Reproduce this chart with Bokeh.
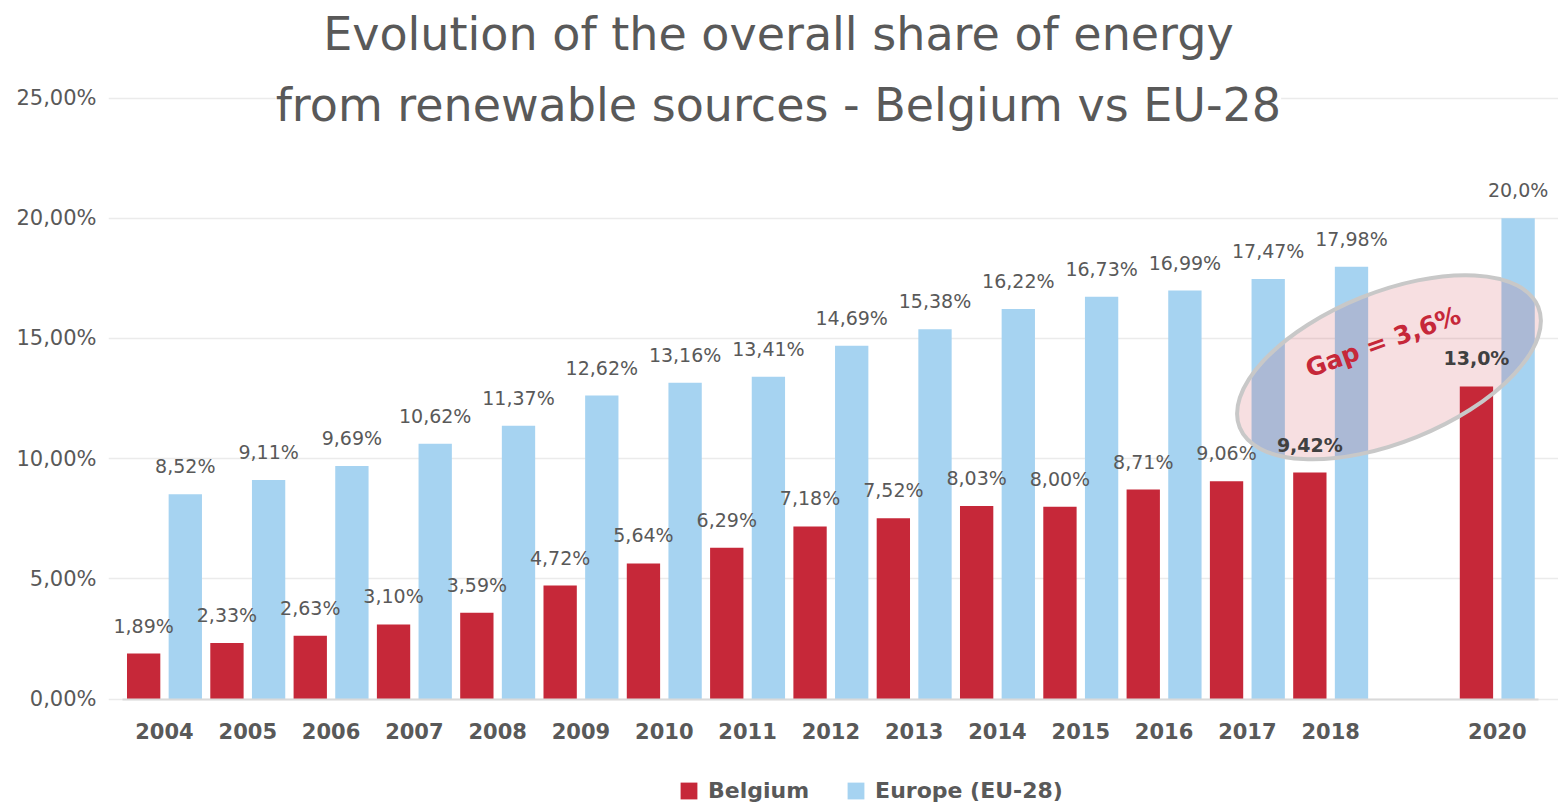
from bokeh.plotting import figure
from bokeh.models import (ColumnDataSource, FixedTicker, Range1d, Legend, LegendItem, Label)
from bokeh.transform import dodge
from bokeh.core.properties import value, field
from bokeh.embed import file_html
from bokeh.resources import INLINE

# ---- data ----
years = [2004, 2005, 2006, 2007, 2008, 2009, 2010, 2011, 2012, 2013, 2014, 2015, 2016, 2017, 2018, 2020]
belgium = [1.89, 2.33, 2.63, 3.10, 3.59, 4.72, 5.64, 6.29, 7.18, 7.52, 8.03, 8.00, 8.71, 9.06, 9.42, 13.0]
europe = [8.52, 9.11, 9.69, 10.62, 11.37, 12.62, 13.16, 13.41, 14.69, 15.38, 16.22, 16.73, 16.99, 17.47, 17.98, 20.0]
y_ticks = [0, 5, 10, 15, 20, 25]
y_tick_labels = ["0,00%", "5,00%", "10,00%", "15,00%", "20,00%", "25,00%"]
series_names = ["Belgium", "Europe (EU-28)"]
title_lines = ["Evolution of the overall share of energy",
               "from renewable sources - Belgium vs EU-28"]
gap_text = "Gap = 3,6%"

RED = "#C62839"
BLUE = "#A6D3F1"
GREY = "#595959"
FONT = "DejaVu Sans"


def fmt(v, yr):
    d = 1 if yr == 2020 else 2
    return f"{v:.{d}f}".replace(".", ",") + "%"


highlight = {2018, 2020}
source = ColumnDataSource(dict(
    year=years,
    be=belgium,
    eu=europe,
    be_lbl=[fmt(v, y) for v, y in zip(belgium, years)],
    eu_lbl=[fmt(v, y) for v, y in zip(europe, years)],
    be_style=["bold" if y in highlight else "normal" for y in years],
    be_color=["#404040" if y in highlight else GREY for y in years],
))

p = figure(width=1558, height=802,
           x_range=Range1d(2003.328, 2020.735), y_range=Range1d(-4.305, 29.056),
           output_backend="svg", toolbar_location=None,
           min_border_left=108, min_border_right=0,
           min_border_top=0, min_border_bottom=0)
p.outline_line_color = None
p.background_fill_color = "white"
p.border_fill_color = "white"

r_be = p.vbar(x=dodge("year", -0.25, range=p.x_range), top="be", width=0.4,
              source=source, fill_color=RED, line_color=None)
r_eu = p.vbar(x=dodge("year", 0.25, range=p.x_range), top="eu", width=0.4,
              source=source, fill_color=BLUE, line_color=None)

# gap annotation ellipse
p.ellipse(x=[2018.70], y=[13.80], width=322, height=150,
          width_units="screen", height_units="screen",
          angle=22, angle_units="deg",
          fill_color=RED, fill_alpha=0.15, line_color="#C8C8C8", line_width=4)
p.text(x=[2018.63], y=[14.85], text=[gap_text], angle=20, angle_units="deg",
       text_align="center", text_baseline="middle",
       text_font=value(FONT), text_font_size="25px", text_font_style="bold",
       text_color=RED)

# value labels
p.text(x=dodge("year", -0.25, range=p.x_range), y="be", text="be_lbl", source=source,
       text_align="center", text_baseline="middle", y_offset=-28,
       text_font=value(FONT), text_font_size="19px",
       text_font_style=field("be_style"), text_color=field("be_color"))
p.text(x=dodge("year", 0.25, range=p.x_range), y="eu", text="eu_lbl", source=source,
       text_align="center", text_baseline="middle", y_offset=-28,
       text_font=value(FONT), text_font_size="19px", text_color=GREY)

# axes
p.xaxis.fixed_location = 0
p.xaxis.bounds = (2003.5, 2020.5)
p.xaxis.ticker = FixedTicker(ticks=years)
p.xaxis.axis_line_color = "#D9D9D9"
p.xaxis.axis_line_width = 2
p.xaxis.major_tick_line_color = None
p.xaxis.minor_tick_line_color = None
p.xaxis.major_tick_out = 0
p.xaxis.major_tick_in = 0
p.xaxis.major_label_standoff = 24
p.xaxis.major_label_text_font = FONT
p.xaxis.major_label_text_font_size = "21px"
p.xaxis.major_label_text_font_style = "bold"
p.xaxis.major_label_text_color = GREY

p.yaxis.ticker = FixedTicker(ticks=y_ticks)
p.yaxis.major_label_overrides = {t: l for t, l in zip(y_ticks, y_tick_labels)}
p.yaxis.axis_line_color = None
p.yaxis.major_tick_line_color = None
p.yaxis.minor_tick_line_color = None
p.yaxis.major_tick_out = 0
p.yaxis.major_tick_in = 0
p.yaxis.major_label_standoff = 12
p.yaxis.major_label_text_font = FONT
p.yaxis.major_label_text_font_size = "21px"
p.yaxis.major_label_text_color = GREY

p.xgrid.grid_line_color = None
p.ygrid.grid_line_color = "#EBEBEB"
p.ygrid.grid_line_width = 1.5

# title (two lines)
p.add_layout(Label(x=2011.37, y=27.68, text=title_lines[0], text_align="center",
                   text_baseline="middle", text_font=FONT, text_font_size="46px",
                   text_color=GREY))
p.add_layout(Label(x=2011.37, y=24.69, text=title_lines[1], text_align="center",
                   text_baseline="middle", text_font=FONT, text_font_size="46px",
                   text_color=GREY, background_fill_color="white"))

legend = Legend(items=[LegendItem(label=series_names[0], renderers=[r_be]),
                       LegendItem(label=series_names[1], renderers=[r_eu])],
                orientation="horizontal", location=(570, -1),
                glyph_width=21, glyph_height=21, label_standoff=9, spacing=36,
                padding=0, margin=0, border_line_color=None, background_fill_alpha=0,
                label_text_font=FONT, label_text_font_size="22px",
                label_text_font_style="bold", label_text_color=GREY)
p.add_layout(legend)

open("out.html", "w").write(file_html(p, INLINE))
